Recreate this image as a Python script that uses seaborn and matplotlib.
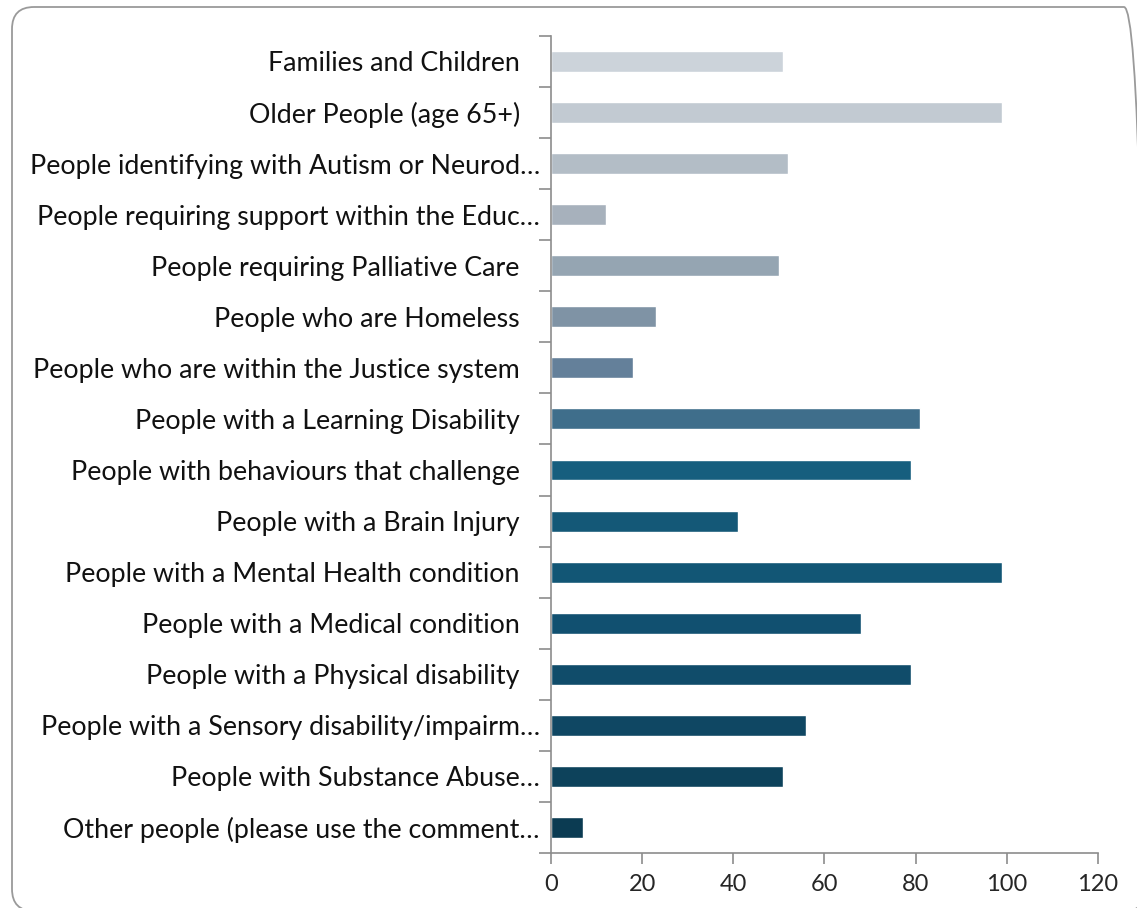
import numpy as np
import matplotlib
matplotlib.use("Agg")
import matplotlib.pyplot as plt
import seaborn as sns
from matplotlib.patches import FancyBboxPatch
from matplotlib.transforms import IdentityTransform

# categories, top to bottom
categories = [
    "Families and Children",
    "Older People (age 65+)",
    "People identifying with Autism or Neurod\u2026",
    "People requiring support within the Educ\u2026",
    "People requiring Palliative Care",
    "People who are Homeless",
    "People who are within the Justice system",
    "People with a Learning Disability",
    "People with behaviours that challenge",
    "People with a Brain Injury",
    "People with a Mental Health condition",
    "People with a Medical condition",
    "People with a Physical disability",
    "People with a Sensory disability/impairm\u2026",
    "People with Substance Abuse\u2026",
    "Other people (please use the comment\u2026",
]
values = [51, 99, 52, 12, 50, 23, 18, 81, 79, 41, 99, 68, 79, 56, 51, 7]
bar_colors = [
    "#CCD3DA", "#C2CAD2", "#B3BDC6", "#A7B1BC", "#95A5B2", "#7F93A5",
    "#64809A", "#3F6E8B", "#165E7E", "#145877", "#125675", "#115070",
    "#104C6A", "#0F4763", "#0D425B", "#0B3B52",
]
x_ticks = [0, 20, 40, 60, 80, 100, 120]

sns.set_style("white")
plt.rcParams["font.family"] = ["Lato", "DejaVu Sans"]

fig = plt.figure(figsize=(11.37, 9.08), dpi=100, facecolor="white")
ax = fig.add_axes([0.4846, 0.0606, 0.4811, 0.8998])

sns.barplot(x=values, y=categories, hue=categories, palette=bar_colors,
            orient="h", width=0.41, legend=False, saturation=1, ax=ax)

axis_grey = "#8C8C8C"
ax.set_xlim(0, 120)
ax.set_ylim(len(categories) - 0.5, -0.5)
ax.set_xticks(x_ticks)
ax.set_xticklabels([str(t) for t in x_ticks], fontsize=17)

# tick marks sit between the categories, labels sit on the bars
n = len(categories)
ax.set_yticks(np.arange(n + 1) - 0.5)
ax.set_yticklabels([])
ax.set_yticks(np.arange(n), minor=True)
# full labels stand a bit further from the axis than the cut ones
shown = [c if c.endswith("\u2026") else c + "\u2002\u2005" for c in categories]
ax.set_yticklabels(shown, minor=True, fontsize=19.3, color="#111111")
ax.tick_params(axis="y", which="minor", left=False, length=0, pad=8)
ax.tick_params(axis="y", which="major", left=True, length=9, width=1.2,
               color=axis_grey, direction="out")
ax.tick_params(axis="x", bottom=True, length=8, width=1.2, color=axis_grey,
               direction="out", pad=7)
ax.set_xlabel("")
ax.set_ylabel("")

for s in ["top", "right"]:
    ax.spines[s].set_visible(False)
for s in ["left", "bottom"]:
    ax.spines[s].set_color(axis_grey)
    ax.spines[s].set_linewidth(1.2)

# rounded frame around the whole chart (pixel coords, origin bottom-left)
left, top, right, bottom = 12, 7, 1146, 911
frame = FancyBboxPatch((left, 908 - bottom), right - left, bottom - top,
                       boxstyle="round,pad=0,rounding_size=22",
                       transform=IdentityTransform(), facecolor="none",
                       edgecolor="#9A9A9A", linewidth=1.3, zorder=-1)
fig.patches.append(frame)

fig.savefig("out.png", dpi=100)
